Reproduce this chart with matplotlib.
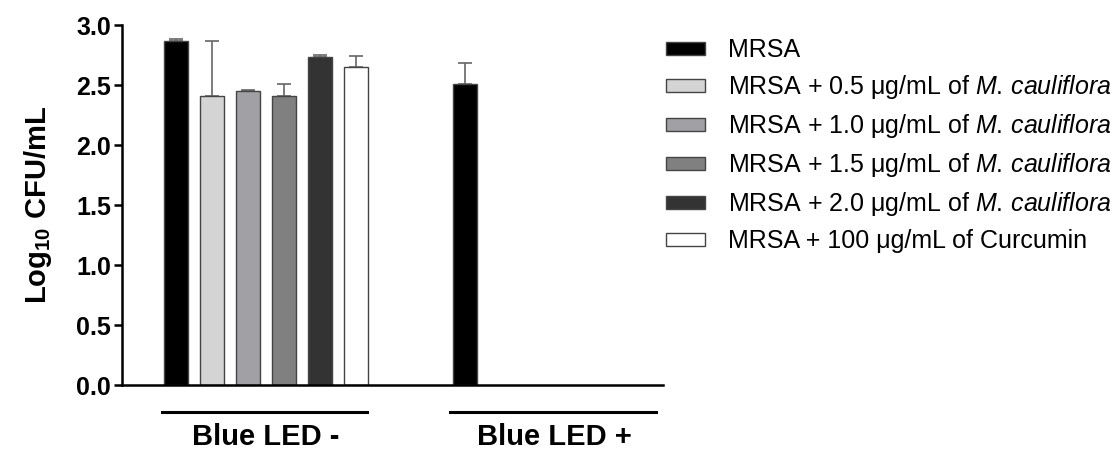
import matplotlib
matplotlib.use('Agg')
import matplotlib.pyplot as plt
import matplotlib.transforms as mtransforms
from matplotlib.patches import Patch
import numpy as np

plt.rcParams['font.family'] = ['Liberation Sans', 'DejaVu Sans']
plt.rcParams['mathtext.fontset'] = 'custom'
plt.rcParams['mathtext.rm'] = 'Liberation Sans'
plt.rcParams['mathtext.it'] = 'Liberation Sans:italic'
plt.rcParams['mathtext.bf'] = 'Liberation Sans:bold'

# data
groups = ['Blue LED -', 'Blue LED +']
series = ['MRSA',
          'MRSA + 0.5 \u03bcg/mL of $\\mathit{M.\\,cauliflora}$',
          'MRSA + 1.0 \u03bcg/mL of $\\mathit{M.\\,cauliflora}$',
          'MRSA + 1.5 \u03bcg/mL of $\\mathit{M.\\,cauliflora}$',
          'MRSA + 2.0 \u03bcg/mL of $\\mathit{M.\\,cauliflora}$',
          'MRSA + 100 \u03bcg/mL of Curcumin']
led_off = [2.87, 2.41, 2.45, 2.41, 2.73, 2.65]
led_off_err = [0.01, 0.46, 0.01, 0.10, 0.02, 0.09]
led_on = [2.51, 0, 0, 0, 0, 0]
led_on_err = [0.17, 0, 0, 0, 0, 0]

colors = ['#000000', '#d4d4d4', '#a1a1a5', '#808080', '#333333', '#ffffff']

fig = plt.figure(figsize=(11.18, 4.5), dpi=100)
ax = fig.add_axes([0.109, 0.1444, 0.484, 0.8])

width = 0.667
group_start = [0, 8]
for gi, (vals, errs) in enumerate([(led_off, led_off_err), (led_on, led_on_err)]):
    for i in range(len(series)):
        x = group_start[gi] + i
        if vals[i] <= 0:
            continue
        ax.bar(x, vals[i], width, color=colors[i], edgecolor='#444444',
               linewidth=1.0, zorder=2)
        ax.errorbar(x, vals[i], yerr=[[0], [errs[i]]], fmt='none',
                    ecolor='#666666', elinewidth=1.2, capsize=5, capthick=1.2,
                    zorder=1)

ax.set_xlim(-1.5, 13.5)
ax.set_ylim(0, 3.0)
ax.set_yticks(np.arange(0, 3.01, 0.5))
ax.set_yticklabels(['%.1f' % v for v in np.arange(0, 3.01, 0.5)],
                   fontsize=18, fontweight='bold')
ax.set_xticks([])
ax.spines['top'].set_visible(False)
ax.spines['right'].set_visible(False)
ax.spines['left'].set_linewidth(1.8)
ax.spines['bottom'].set_linewidth(1.8)
ax.tick_params(axis='y', length=6, width=1.8, pad=2)
ax.set_ylabel('Log$_{\\mathbf{10}}$ CFU/mL', fontsize=21, fontweight='bold',
              labelpad=16)

# group brackets below the axis
trans = mtransforms.blended_transform_factory(ax.transData, ax.transAxes)
for gi, name in enumerate(groups):
    x0 = group_start[gi] - 0.39
    x1 = group_start[gi] + 5.3
    ax.plot([x0, x1], [-0.075, -0.075], color='black', lw=2.2,
            transform=trans, clip_on=False)
    ax.text(group_start[gi] + 2.5, -0.145, name, transform=trans,
            ha='center', va='center', fontsize=21, fontweight='bold')

handles = [Patch(facecolor=c, edgecolor='#444444', linewidth=1.0) for c in colors]
fig.legend(handles, series, loc='upper left', bbox_to_anchor=(0.596, 0.915),
           frameon=False, fontsize=18, handlelength=1.56, handleheight=0.4,
           handletextpad=0.92, labelspacing=0.44, borderpad=0, borderaxespad=0)

fig.savefig('out.png', dpi=100)
